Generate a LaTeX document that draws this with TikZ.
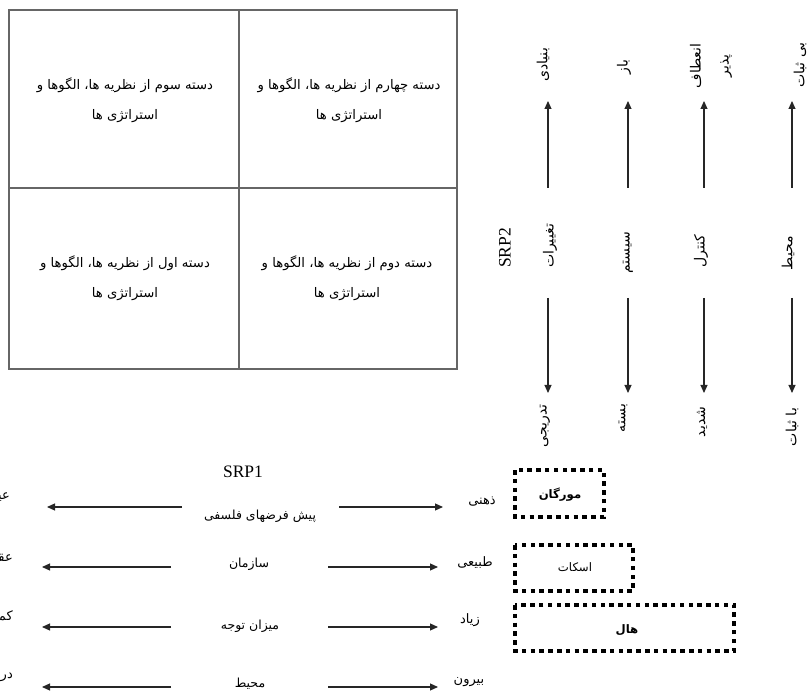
\documentclass[tikz,border=0pt]{standalone}
\usepackage{fontspec}
\setmainfont{Liberation Serif}
\newfontfamily\arabicfont[Script=Arabic]{DejaVu Sans}
\usetikzlibrary{arrows.meta}
\TeXXeTstate=1
\newcommand{\rtl}[1]{\beginR #1\endR}
\begin{document}
\begin{tikzpicture}[x=1pt,y=-1pt,
  gridline/.style={draw=black!60, line width=1.2pt},
  cell/.style={font=\arabicfont\fontsize{13.2}{30}\selectfont, align=center, inner sep=0pt},
  vlab/.style={font=\arabicfont\fontsize{14}{16}\selectfont, rotate=90, inner sep=0pt},
  srp/.style={font=\fontsize{17.5}{20}\selectfont, inner sep=0pt},
  hlab/.style={font=\arabicfont\fontsize{12.5}{14}\selectfont, inner sep=0pt},
  slab/.style={font=\arabicfont\fontsize{13}{15}\selectfont, inner sep=0pt},
  ar/.style={draw=black!85, line width=1.1pt, -{Triangle[length=8pt,width=7pt]}},
  dotbox/.style={draw=black, line width=3.3pt, dash pattern=on 4.5pt off 4.3pt},
  boxlab/.style={font=\arabicfont\fontsize{11.7}{14}\selectfont, inner sep=0pt},
  boxlabb/.style={font=\arabicfont\bfseries\fontsize{11.7}{14}\selectfont, inner sep=0pt}]
\useasboundingbox (0,0) rectangle (811,692);
\clip (0,0) rectangle (811,692);
% grid
\draw[gridline] (9,10) rectangle (457,369);
\draw[gridline] (239,10) -- (239,369);
\draw[gridline] (9,188) -- (457,188);
\node[cell] (c3) at (125,100) {\rtl{دسته سوم از نظریه ها، الگوها و}\\\rtl{استراتژی ها}};
\node[cell] (c4) at (349,100) {\rtl{دسته چهارم از نظریه ها، الگوها و}\\\rtl{استراتژی ها}};
\node[cell] (c1) at (125,278) {\rtl{دسته اول از نظریه ها، الگوها و}\\\rtl{استراتژی ها}};
\node[cell] (c2) at (347,278) {\rtl{دسته دوم از نظریه ها، الگوها و}\\\rtl{استراتژی ها}};
% SRP2 column labels
\node[srp, rotate=90] (srp2) at (505,248) {SRP2};
\node[vlab] (t1) at (543,65) {\rtl{بنیادی}};
\node[vlab] (t2) at (624,67) {\rtl{باز}};
\node[vlab, align=center, font=\arabicfont\fontsize{14}{28}\selectfont] (t3) at (711,66) {\rtl{انعطاف}\\\rtl{پذیر}};
\node[vlab] (t4) at (800,65) {\rtl{بی ثبات}};
\node[vlab] (m1) at (550,246) {\rtl{تغییرات}};
\node[vlab] (m2) at (628,253) {\rtl{سیستم}};
\node[vlab] (m3) at (701,251) {\rtl{کنترل}};
\node[vlab] (m4) at (788,253) {\rtl{محیط}};
\node[vlab] (b1) at (545,426) {\rtl{تدریجی}};
\node[vlab] (b2) at (623,418) {\rtl{بسته}};
\node[vlab] (b3) at (702,422) {\rtl{شدید}};
\node[vlab] (b4) at (792,427) {\rtl{با ثبات}};
\foreach \i/\x in {1/548,2/628,3/704,4/792}{
  \coordinate (us\i) at (\x,188);
  \coordinate (ue\i) at (\x,101);
  \coordinate (ds\i) at (\x,298);
  \coordinate (de\i) at (\x,393);
  \draw[ar] (us\i) -- (ue\i);
  \draw[ar] (ds\i) -- (de\i);
}
% SRP1
\node[srp] (srp1) at (243,472) {SRP1};
\node[hlab] (p1) at (260,516) {\rtl{پیش فرضهای فلسفی}};
\node[hlab] (p2) at (249,564) {\rtl{سازمان}};
\node[hlab] (p3) at (250,626) {\rtl{میزان توجه}};
\node[hlab] (p4) at (250,684) {\rtl{محیط}};
\node[slab] (r1) at (482,502) {\rtl{ذهنی}};
\node[slab] (r2) at (475,563) {\rtl{طبیعی}};
\node[slab] (r3) at (470,620) {\rtl{زیاد}};
\node[slab] (r4) at (469,682) {\rtl{بیرون}};
\node[slab, anchor=east] (l1) at (10,497) {\rtl{عینی}};
\node[slab, anchor=east] (l2) at (13,557) {\rtl{عقلانی}};
\node[slab, anchor=east] (l3) at (13,617) {\rtl{کم}};
\node[slab, anchor=east] (l4) at (13,677) {\rtl{درون}};
\foreach \i/\y/\ls/\le/\rs/\re in {1/507/182/47/339/443,2/567/171/42/328/438,3/627/171/42/328/438,4/687/171/42/328/438}{
  \coordinate (ls\i) at (\ls,\y);
  \coordinate (le\i) at (\le,\y);
  \coordinate (rs\i) at (\rs,\y);
  \coordinate (re\i) at (\re,\y);
  \draw[ar] (ls\i) -- (le\i);
  \draw[ar] (rs\i) -- (re\i);
}
% dotted boxes
\draw[dotbox] (515,470) rectangle (604,517);
\node[boxlabb] (morgan) at (560,495) {\rtl{مورگان}};
\draw[dotbox] (515,545) rectangle (633,591);
\node[boxlab] (scott) at (575,567) {\rtl{اسکات}};
\draw[dotbox] (515,605) rectangle (734,651);
\node[boxlabb] (hall) at (627,630) {\rtl{هال}};
\end{tikzpicture}
\end{document}
